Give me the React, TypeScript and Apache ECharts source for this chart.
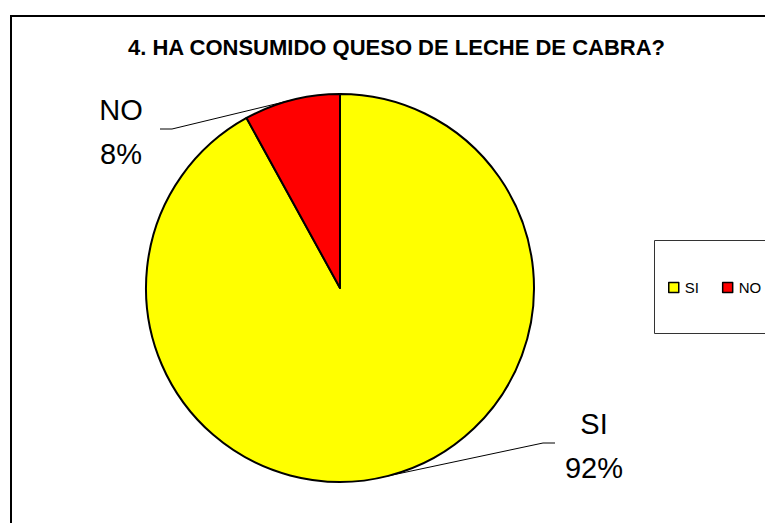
import React, { useEffect, useRef } from "react";
import * as echarts from "echarts";

const TITLE = "4. HA CONSUMIDO QUESO DE LECHE DE CABRA?";
const categories = ["SI", "NO"];
const percents = [92, 8];
const colors = ["#FFFF00", "#FF0000"];
// label anchor positions (centre of the two-line label block)
const labelAnchors = [
  { x: 594, y: 446, side: -1 },
  { x: 121, y: 132, side: 1 },
];

export default function App() {
  const ref = useRef<HTMLDivElement>(null);
  useEffect(() => {
    if (!ref.current) return;
    const chart = echarts.init(ref.current, null, { renderer: "svg" });
    const font = "'Liberation Sans', Arial, sans-serif";
    chart.setOption({
      animation: false,
      backgroundColor: "#ffffff",
      title: {
        text: TITLE,
        left: 128,
        top: 36,
        padding: 0,
        textStyle: { fontFamily: font, fontWeight: "bold", fontSize: 22, color: "#000" },
      },
      legend: {
        data: categories,
        left: 668,
        top: 280,
        padding: 0,
        icon: "rect",
        itemWidth: 10,
        itemHeight: 10,
        itemGap: 23,
        itemStyle: { borderColor: "#000", borderWidth: 1.5 },
        textStyle: { fontFamily: font, fontSize: 15, color: "#000", padding: [0, 0, 0, 1] },
      },
      graphic: [
        {
          type: "rect",
          shape: { x: 11, y: 16, width: 900, height: 700 },
          style: { fill: "none", stroke: "#000", lineWidth: 2 },
          silent: true,
          z: -1,
        },
        {
          type: "rect",
          shape: { x: 654.5, y: 240.5, width: 300, height: 93 },
          style: { fill: "#fff", stroke: "#333", lineWidth: 1 },
          silent: true,
          z: -1,
        },
      ],
      series: [
        {
          type: "pie",
          center: [340, 288],
          radius: 194,
          startAngle: 90,
          clockwise: true,
          data: categories.map((c, i) => ({
            name: c,
            value: percents[i],
            itemStyle: { color: colors[i] },
          })),
          itemStyle: { borderColor: "#000", borderWidth: 2 },
          label: {
            show: true,
            formatter: (p: any) => `${p.name}\n${p.value}%`,
            fontFamily: font,
            fontSize: 29,
            lineHeight: 44,
            color: "#000",
            align: "center",
          },
          labelLine: {
            show: true,
            length: 30,
            length2: 10,
            lineStyle: { color: "#000", width: 1 },
          },
          labelLayout: (params: any) => {
            const a = labelAnchors[params.dataIndex];
            const start = params.labelLinePoints ? params.labelLinePoints[0] : [0, 0];
            const lineY = a.y - 3;
            const nearX = a.x + a.side * 39;
            const farX = a.x + a.side * 51;
            return {
              x: a.x,
              y: a.y,
              align: "center",
              verticalAlign: "middle",
              labelLinePoints: [start, [farX, lineY], [nearX, lineY]],
            };
          },
          emphasis: { disabled: true },
        },
      ],
    });
    return () => chart.dispose();
  }, []);
  return (
    <div
      ref={ref}
      style={{ position: "absolute", left: 0, top: 0, width: 765, height: 523 }}
    />
  );
}
